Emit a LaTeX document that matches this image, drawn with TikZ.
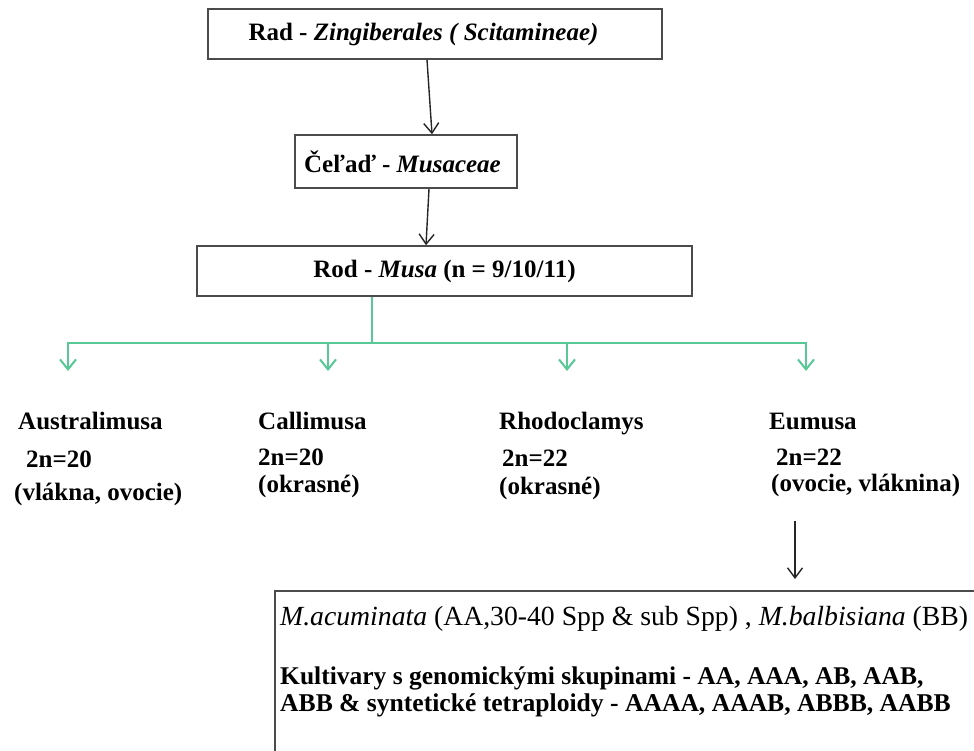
\documentclass[tikz,border=0pt]{standalone}
\usepackage{fontspec}
\setmainfont{Liberation Serif}
\usetikzlibrary{arrows.meta}
\definecolor{boxgray}{RGB}{75,75,75}
\definecolor{gline}{RGB}{88,200,150}
\begin{document}
\begin{tikzpicture}[x=1pt,y=-1pt,
  every node/.style={font=\fontsize{25}{27}\selectfont\bfseries, inner sep=0pt},
  taxbox/.style={draw=boxgray, line width=1.5pt, inner sep=0pt},
  blk/.style={draw=black!85, line width=1.4pt, -{Straight Barb[length=10pt,width=15pt]}},
  grn/.style={draw=gline, line width=2pt, -{Straight Barb[length=10pt,width=16pt]}},
  lbl/.style={anchor=base west}
]
\useasboundingbox[fill=white] (0,0) rectangle (974,751);
\clip (0,0) rectangle (974,751);

% taxonomy boxes
\node[taxbox, minimum width=454pt, minimum height=50pt] (rad) at (435,34)
  {Rad - \textit{Zingiberales ( Scitamineae)}\kern23pt};
\node[taxbox, minimum width=222pt, minimum height=53pt] (cel) at (406,161.5)
  {Čeľaď - \textit{Musaceae}\kern7pt};
\node[taxbox, minimum width=495pt, minimum height=50pt] (rod) at (444.5,271)
  {Rod - \textit{Musa} (n = 9/10/11)};

\draw[blk] ([xshift=-8pt]rad.south) -- ([xshift=26pt]cel.north);
\draw[blk] ([xshift=23pt]cel.south) -- ([xshift=-18.5pt]rod.north);

% green branching
\coordinate (gj) at (372,343);
\coordinate (t1) at (68,371);
\coordinate (t2) at (328,371);
\coordinate (t3) at (567,371);
\coordinate (t4) at (806,371);
\draw[gline, line width=2pt] ([xshift=-72.5pt]rod.south) -- (gj);
\draw[grn] (gj) -| (t1);
\draw[grn] (gj) -| (t2);
\draw[grn] (gj) -| (t3);
\draw[grn] (gj) -| (t4);

% subgenera
\node[lbl] (aus)  at (18,429)  {Australimusa};
\node[lbl] (aus2) at (26,467)  {2n=20};
\node[lbl] (aus3) at (14,500)  {(vlákna, ovocie)};
\node[lbl] (cal)  at (258,429) {Callimusa};
\node[lbl] (cal2) at (258,465) {2n=20};
\node[lbl] (cal3) at (258,492) {(okrasné)};
\node[lbl] (rho)  at (499,429) {Rhodoclamys};
\node[lbl] (rho2) at (502,466) {2n=22};
\node[lbl] (rho3) at (499,494) {(okrasné)};
\node[lbl] (eu)   at (769,429) {Eumusa};
\node[lbl] (eu2)  at (776,465) {2n=22};
\node[lbl] (eu3)  at (771,491) {(ovocie, vláknina)};

% Eumusa arrow
\coordinate (eutail) at (795,521);
\coordinate (euhead) at (795,579);
\draw[blk] (eutail) -- (euhead);

% cultivar box
\node[taxbox, anchor=north west, minimum width=800pt, minimum height=300pt] (cultbox) at (274,590) {};
\node[lbl, font=\fontsize{27.7}{29}\selectfont] (l1) at (280,625)
  {\textit{M.acuminata} (AA,30-40 Spp \& sub Spp) , \textit{M.balbisiana} (BB)};
\node[lbl, font=\fontsize{25.5}{27}\selectfont\bfseries] (l2) at (280,684)
  {Kultivary s genomickými skupinami - AA, AAA, AB, AAB,};
\node[lbl, font=\fontsize{25.6}{27}\selectfont\bfseries] (l3) at (280,711)
  {ABB \& syntetické tetraploidy - AAAA, AAAB, ABBB, AABB};
\end{tikzpicture}
\end{document}
